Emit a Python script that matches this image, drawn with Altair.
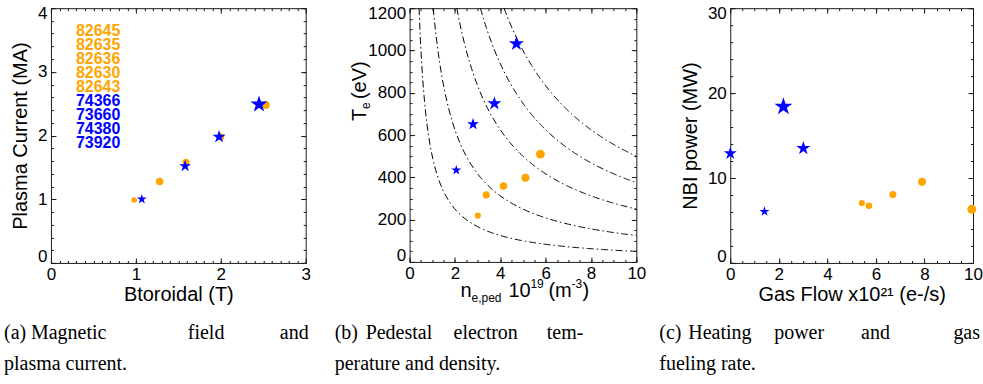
import altair as alt
import pandas as pd
import numpy as np

ORANGE = "#ffa500"
BLUE = "#0000ff"
INK = "#1a1a1a"
SANS = "Liberation Sans"
SERIF = "Liberation Serif"

# ---------------- data ----------------
# (a) Magnetic field vs plasma current
a_circ_x = [0.98, 1.28, 1.59, 2.00, 2.53]
a_circ_y = [0.99, 1.28, 1.58, 1.98, 2.48]
a_circ_area = [30, 56, 50, 50, 64]
a_star_x = [1.07, 1.58, 1.98, 2.45]
a_star_y = [1.00, 1.52, 1.98, 2.49]
a_star_area = [110, 159, 187, 320]
orange_shots = ["82645", "82635", "82636", "82630", "82643"]
blue_shots = ["74366", "73660", "74380", "73920"]

# (b) Pedestal electron temperature vs density
b_star_x = [2.06, 2.80, 3.74, 4.71]
b_star_y = [434, 651, 749, 1032]
b_star_area = [110, 159, 217, 249]
b_circ_x = [3.01, 3.38, 4.14, 5.11, 5.77]
b_circ_y = [219, 317, 359, 398, 510]
b_circ_area = [38, 50, 57, 64, 79]
pressure_levels = [500, 1250, 2500, 3750, 5000]   # n*T isobars

# (c) Heating power vs gas flow
c_star_x = [0.00, 1.41, 2.19, 3.01]
c_star_y = [12.9, 6.05, 18.4, 13.5]
c_star_area = [187, 110, 358, 217]
c_circ_x = [5.42, 5.71, 6.70, 7.90, 9.95]
c_circ_y = [7.05, 6.74, 8.06, 9.57, 6.32]
c_circ_area = [38, 44, 50, 64, 79]

# tick values
a_x_major = [0, 1, 2, 3]
a_y_major = [0, 1, 2, 3, 4]
b_x_major = [0, 2, 4, 6, 8, 10]
b_y_major = [0, 200, 400, 600, 800, 1000, 1200]
c_x_major = [0, 2, 4, 6, 8, 10]
c_y_major = [0, 10, 20, 30]
a_x_minor = [round(i * 0.1, 2) for i in range(31)]
a_y_minor = [round(i * 0.2, 2) for i in range(21)]
b_x_minor = [i * 0.5 for i in range(21)]
b_y_minor = [i * 50 for i in range(25)]
c_x_minor = [i * 0.5 for i in range(21)]
c_y_minor = [i * 2 for i in range(16)]

STAR = ("M0,-1L0.2245,-0.309L0.951,-0.309L0.363,0.118L0.588,0.809L0,0.382"
        "L-0.588,0.809L-0.363,0.118L-0.951,-0.309L-0.2245,-0.309Z")

MAJ, MIN = 5, 2.5


def main_axis(orient, title, flush, values, **extra):
    kw = dict(orient=orient, values=values, labelFlush=flush, domain=False,
              grid=False, ticks=True, tickSize=MAJ, offset=-MAJ,
              tickColor=INK, labelPadding=4, labelFont=SANS, labelFontSize=17,
              labelColor="black", titleFont=SANS, titleFontSize=20,
              titleFontWeight="normal", titleColor="black", format="d",
              title=title)
    if flush:
        kw["labelFlushOffset"] = 3
    kw.update(extra)
    return alt.Axis(**kw)


def tick_axis(orient, vals, ts):
    return alt.Axis(orient=orient, values=vals, labels=False, domain=False,
                    grid=False, ticks=True, tickSize=ts, offset=-ts,
                    tickColor=INK, title=None)


def frame_layers(xd, yd, xmaj, xmin, ymaj, ymin):
    dummy = pd.DataFrame({"x": [(xd[0] + xd[1]) / 2], "y": [(yd[0] + yd[1]) / 2]})
    sx = alt.Scale(domain=xd, nice=False, zero=False)
    sy = alt.Scale(domain=yd, nice=False, zero=False)
    out = []
    for xo, yo, xv, yv, ts in [("bottom", "left", xmin, ymin, MIN),
                               ("top", "right", xmaj, ymaj, MAJ),
                               ("top", "right", xmin, ymin, MIN)]:
        out.append(alt.Chart(dummy).mark_point(opacity=0, size=1).encode(
            x=alt.X("x:Q", scale=sx, axis=tick_axis(xo, xv, ts)),
            y=alt.Y("y:Q", scale=sy, axis=tick_axis(yo, yv, ts))))
    return out


one = pd.DataFrame({"k": [0]})


def txt(s, x, y, size=20, font=SERIF, color="black", angle=0, weight="normal",
        line_height=None, align="left"):
    kw = dict(text=s, font=font, fontSize=size, color=color, align=align,
              baseline="alphabetic", fontWeight=weight)
    if angle:
        kw["angle"] = angle
    if line_height:
        kw["lineHeight"] = line_height
    return alt.Chart(one).mark_text(**kw).encode(x=alt.value(x), y=alt.value(y))


def points(xs, ys, areas, kind, xdef, ydef):
    df = pd.DataFrame({"x": xs, "y": ys, "s": areas})
    if kind == "star":
        m = alt.Chart(df).mark_point(shape=STAR, filled=True, color=BLUE,
                                     opacity=1, strokeWidth=0)
    else:
        m = alt.Chart(df).mark_circle(color=ORANGE, opacity=1)
    return m.encode(x=xdef, y=ydef,
                    size=alt.Size("s:Q", scale=None, legend=None))


def xy(xd, yd, xaxis, yaxis):
    sx = alt.Scale(domain=xd, nice=False, zero=False)
    sy = alt.Scale(domain=yd, nice=False, zero=False)
    return (alt.X("x:Q", scale=sx, axis=xaxis), alt.Y("y:Q", scale=sy, axis=yaxis))


CAP1, CAP2 = 331, 362

# ---------------- panel (a) ----------------
AW, AH = 255, 255
xa, ya = xy([0, 3], [0, 4],
            main_axis("bottom", "Btoroidal (T)", False, a_x_major, titlePadding=2),
            main_axis("left", "Plasma Current (MA)", True, a_y_major, titlePadding=7))
main_a = alt.layer(
    points(a_circ_x, a_circ_y, a_circ_area, "circ", xa, ya),
    points(a_star_x, a_star_y, a_star_area, "star", xa, ya),
    txt(orange_shots, 25, 28, size=16, font=SANS, color=ORANGE,
        weight="bold", line_height=14),
    txt(blue_shots, 25, 98, size=16, font=SANS, color=BLUE,
        weight="bold", line_height=14),
    txt("(a)", -47, CAP1), txt("Magnetic", -20, CAP1), txt("field", 137, CAP1),
    txt("and", 258, CAP1, align="right"), txt("plasma current.", -47, CAP2),
)
panel_a = alt.layer(main_a, *frame_layers([0, 3], [0, 4], a_x_major, a_x_minor,
                                          a_y_major, a_y_minor)
                    ).resolve_scale(x="independent", y="independent"
                    ).properties(width=AW, height=AH)

# ---------------- panel (b) ----------------
BW, BH = 227, 254
xb, yb = xy([0, 10], [0, 1200],
            main_axis("bottom", None, False, b_x_major),
            main_axis("left", None, True, b_y_major))
rows = []
for c in pressure_levels:
    for n in np.linspace(c / 1200.0, 10, 160):
        rows.append({"x": n, "y": c / n, "c": c})
iso = pd.DataFrame(rows)
curves = alt.Chart(iso).mark_line(color="black", strokeWidth=1,
                                  strokeDash=[7, 3, 1.5, 3]).encode(
    x=xb, y=yb, detail="c:N")
main_b = alt.layer(
    curves,
    points(b_circ_x, b_circ_y, b_circ_area, "circ", xb, yb),
    points(b_star_x, b_star_y, b_star_area, "star", xb, yb),
    # x title  n_{e,ped} 10^{19} (m^{-3})
    txt("n", 51, 289, font=SANS), txt("e,ped", 62, 294, size=12, font=SANS),
    txt("10", 99, 289, font=SANS), txt("19", 121, 280, size=12, font=SANS),
    txt("(m", 139, 289, font=SANS), txt("-3", 162, 280, size=12, font=SANS),
    txt(")", 173, 289, font=SANS),
    # y title  T_e (eV)
    txt("T", -44, 113, font=SANS, angle=270),
    txt("e", -40, 101, size=12, font=SANS, angle=270),
    txt("(eV)", -44, 91, font=SANS, angle=270),
    txt("(b)", -75, CAP1), txt("Pedestal", -44, CAP1), txt("electron", 44, CAP1),
    txt("tem-", 174, CAP1, align="right"), txt("perature and density.", -75, CAP2),
)
panel_b = alt.layer(main_b, *frame_layers([0, 10], [0, 1200], b_x_major,
                                          b_x_minor, b_y_major, b_y_minor)
                    ).resolve_scale(x="independent", y="independent"
                    ).properties(width=BW, height=BH)

# ---------------- panel (c) ----------------
CW, CH = 243, 255
xc, yc = xy([0, 10], [0, 30],
            main_axis("bottom", "Gas Flow x10\u00b2\u00b9 (e-/s)", False, c_x_major,
                      titlePadding=2),
            main_axis("left", "NBI power (MW)", True, c_y_major, titlePadding=7))
main_c = alt.layer(
    points(c_star_x, c_star_y, c_star_area, "star", xc, yc),
    points(c_circ_x, c_circ_y, c_circ_area, "circ", xc, yc),
    txt("(c)", -71, CAP1), txt("Heating", -42, CAP1), txt("power", 44, CAP1),
    txt("and", 131, CAP1), txt("gas", 250, CAP1, align="right"),
    txt("fueling rate.", -71, CAP2),
)
panel_c = alt.layer(main_c, *frame_layers([0, 10], [0, 30], c_x_major,
                                          c_x_minor, c_y_major, c_y_minor)
                    ).resolve_scale(x="independent", y="independent"
                    ).properties(width=CW, height=CH)


def spacer(w):
    return alt.Chart(one).mark_point(opacity=0, size=1).encode(
        x=alt.value(w / 2), y=alt.value(120)
    ).properties(width=w, height=AH,
                 view=alt.ViewBackground(stroke="transparent"))


chart = alt.hconcat(panel_a, spacer(104), panel_b, spacer(94), panel_c,
                    spacing=0, bounds="flush").properties(
    padding={"left": 3, "top": 3, "right": 0, "bottom": 4},
    background="white",
).configure_view(stroke=INK, strokeWidth=1)

chart.save("out.html", embed_options={"renderer": "svg", "actions": False})
